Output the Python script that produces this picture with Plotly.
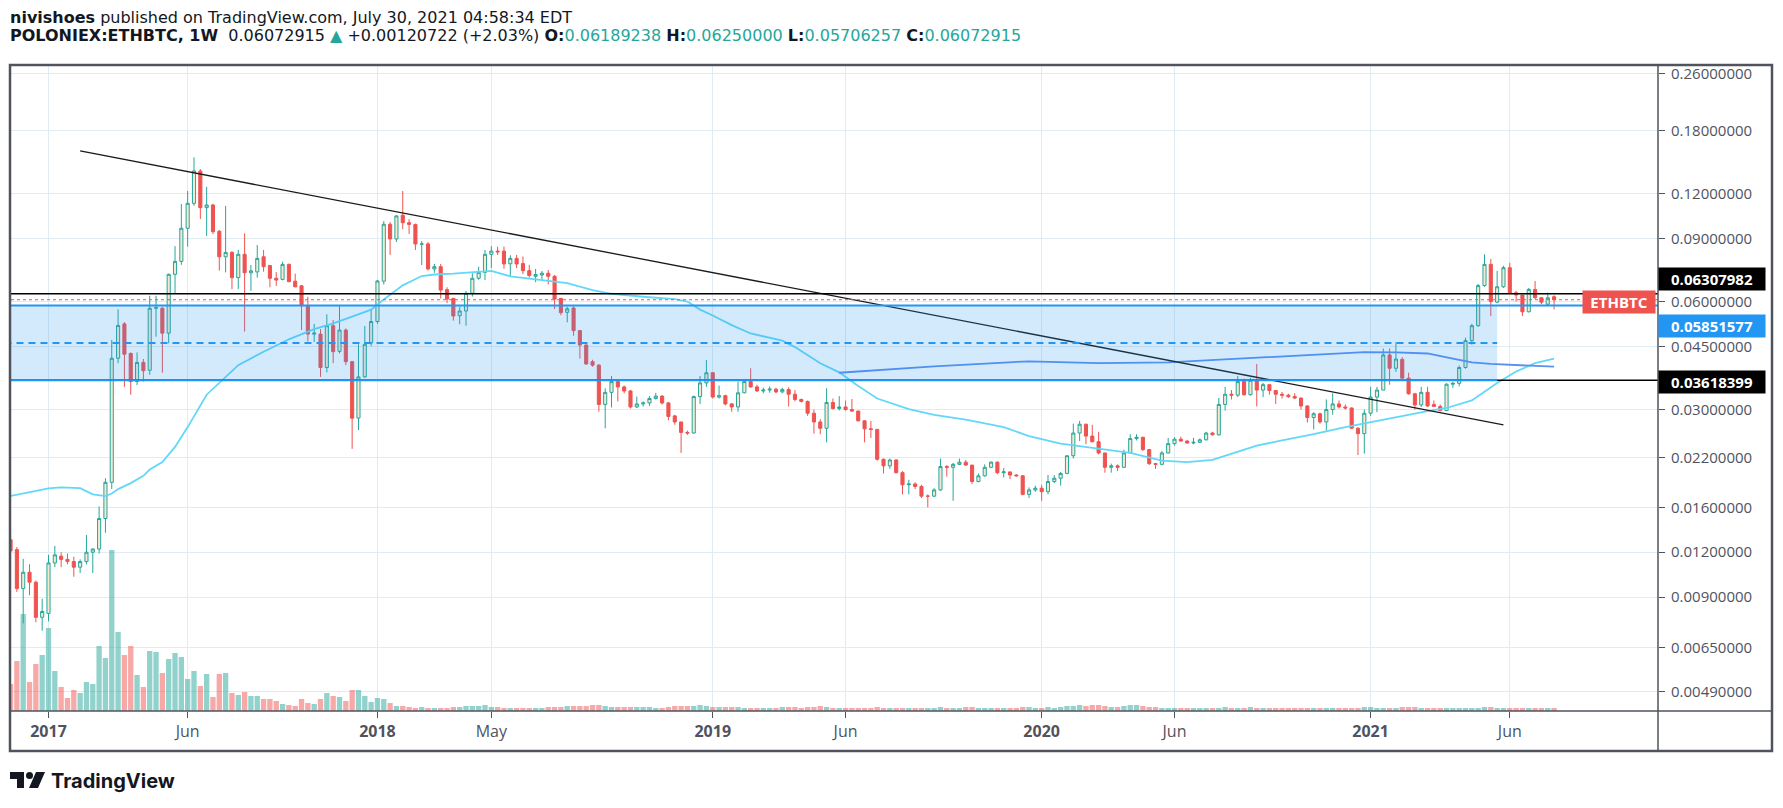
import math
from datetime import date, timedelta
import plotly.graph_objects as go

# ---------------- data (weekly bars, POLONIEX:ETHBTC) ----------------
FIRST_BAR = date(2016, 11, 21)

opens = [
    .0130, .0122, .0095, .01055, .0099, .0079,
    .0081, .0112, .0117, .01146, .0113, .0109, .0113, .0120, .01225, .0149,
    .0188, .0417, .0520, .0430, .0359, .0406, .0386, .0575, .0575, .0490,
    .0715, .0777, .0961, .1128, .1388, .1097, .1116, .0943, .0800, .0823,
    .0700, .0813, .0722, .0726, .0800, .0756, .0697, .0692, .0762, .0684,
    .0664, .0585, .0487, .0487, .0393, .0514, .0436, .0500, .0408, .0284,
    .0370, .0460, .0528, .0684, .0986, .0897, .1045, .0996, .0985, .0868,
    .0869, .0740, .0751, .0648, .0612, .0548, .0565, .0633, .0697, .0724,
    .0813, .0830, .0830, .0765, .0792, .0766, .0732, .0706, .0712, .0720,
    .0706, .0612, .0560, .0576, .0498, .0454, .0408, .0399, .0310, .0335,
    .0359, .0347, .0338, .0305, .0311, .0313, .0322, .0327, .0313, .0288,
    .0277, .0259, .0258, .0326, .0356, .0380, .0325, .0328, .0311, .0305,
    .0334, .0359, .0347, .0338, .0340, .0342, .0336, .0341, .0331, .0320,
    .0316, .0293, .0277, .0266, .0314, .0302, .0305, .0300, .0297, .0279,
    .0265, .0264, .0218, .0209, .0217, .0200, .0185, .0186, .0183, .0172,
    .0172, .0179, .0208, .0207, .0211, .0214, .0210, .0189, .0196, .0207,
    .0214, .0200, .0201, .0197, .0196, .0174, .0179, .0181, .0177, .0189,
    .0193, .0199, .0223, .0258, .0273, .0253, .0244, .0227, .0207, .0209,
    .0207, .0227, .0249, .0251, .0232, .0212, .0211, .0227, .0241, .0248,
    .0245, .0242, .0243, .0247, .0258, .0255, .0310, .0331, .0329, .0360,
    .0330, .0362, .0340, .0352, .0339, .0331, .0329, .0326, .0323, .0307,
    .0285, .0292, .0277, .0300, .0311, .0305, .0303, .0266, .0257, .0293,
    .0325, .0340, .0426, .0391, .0414, .0367, .0332, .0309, .0335, .0310,
    .0306, .0298, .0353, .0355, .0393, .0467, .0514, .0665, .0762, .0598,
    .0660, .0746, .0635, .0626, .0562, .0649, .0615, .0590, .06189238,
]
highs = [
    .0138, .0124, .0115, .0111, .0100, .0089,
    .0118, .0125, .0120, .0119, .01166, .01146, .0134, .0123, .0161, .0193,
    .0469, .0571, .0526, .0433, .0433, .0415, .0623, .0623, .0580, .0718,
    .0857, .1123, .1221, .1516, .1405, .1253, .1125, .0950, .1109, .0830,
    .0836, .0930, .0759, .0863, .0836, .0760, .0725, .0775, .0766, .0718,
    .0668, .0619, .0520, .0503, .0553, .0533, .0587, .0505, .0410, .0456,
    .0513, .0569, .0690, .1006, .1000, .1045, .1221, .1019, .0990, .0885,
    .0880, .0764, .0764, .0658, .0615, .0580, .0643, .0720, .0751, .0836,
    .0857, .0853, .0855, .0808, .0810, .0802, .0760, .0740, .0730, .0735,
    .0712, .0615, .0580, .0582, .0500, .0456, .0413, .0402, .0344, .0372,
    .0363, .0350, .0340, .0326, .0316, .0327, .0334, .0329, .0315, .0290,
    .0277, .0262, .0328, .0372, .0412, .0381, .0350, .0330, .0313, .0359,
    .0362, .0391, .0352, .0345, .0348, .0345, .0345, .0346, .0340, .0322,
    .0318, .0300, .0282, .0344, .0322, .0327, .0318, .0321, .0298, .0280,
    .0279, .0265, .0219, .0219, .0218, .0202, .0191, .0188, .0185, .0174,
    .0181, .0219, .0210, .0213, .0219, .0217, .0210, .0199, .0211, .0215,
    .0215, .0206, .0201, .0198, .0197, .0182, .0184, .0185, .0197, .0197,
    .0201, .0223, .0274, .0279, .0274, .0272, .0260, .0227, .0212, .0211,
    .0232, .0256, .0256, .0252, .0233, .0213, .0230, .0250, .0251, .0252,
    .0247, .0250, .0249, .0260, .0260, .0323, .0347, .0340, .0372, .0366,
    .0368, .0402, .0356, .0354, .0340, .0336, .0332, .0333, .0324, .0308,
    .0295, .0294, .0320, .0333, .0318, .0310, .0304, .0268, .0300, .0347,
    .0347, .0444, .0444, .0462, .0420, .0380, .0334, .0347, .0347, .0318,
    .0310, .0355, .0358, .0398, .0476, .0520, .0672, .0813, .0789, .0731,
    .0755, .0770, .0643, .0626, .0655, .0685, .0617, .0636, .0625,
]
lows = [
    .0109, .0093, .0076, .0091, .00765, .00725,
    .0077, .0109, .0109, .0111, .01025, .0105, .0111, .0105, .0119, .0136,
    .0180, .0404, .0347, .0330, .0351, .0359, .0375, .0479, .0380, .0459,
    .0633, .0760, .0854, .1110, .1020, .0914, .0925, .0732, .0724, .0650,
    .0650, .0495, .0643, .0700, .0727, .0658, .0664, .0688, .0680, .0658,
    .0500, .0464, .0463, .0370, .0381, .0404, .0430, .0399, .0233, .0263,
    .0368, .0451, .0520, .0670, .0810, .0880, .0955, .0927, .0836, .0759,
    .0733, .0722, .0612, .0594, .0531, .0519, .0514, .0620, .0690, .0689,
    .0744, .0810, .0741, .0706, .0744, .0716, .0700, .0680, .0690, .0670,
    .0572, .0550, .0525, .0482, .0416, .0400, .0395, .0296, .0266, .0304,
    .0316, .0333, .0302, .0303, .0306, .0307, .0320, .0310, .0280, .0272,
    .0227, .0255, .0257, .0311, .0347, .0322, .0322, .0308, .0296, .0296,
    .0333, .0345, .0336, .0333, .0334, .0333, .0333, .0306, .0316, .0314,
    .0288, .0257, .0256, .0243, .0300, .0298, .0298, .0296, .0278, .0243,
    .0250, .0216, .0199, .0205, .0199, .0174, .0174, .0180, .0170, .0160,
    .0171, .0178, .0195, .0167, .0210, .0209, .0186, .0188, .0195, .0206,
    .0198, .0194, .0192, .0195, .0173, .0170, .0177, .0167, .0174, .0187,
    .0184, .0198, .0219, .0245, .0240, .0243, .0225, .0200, .0200, .0202,
    .0206, .0226, .0246, .0230, .0210, .0205, .0210, .0226, .0238, .0244,
    .0241, .0240, .0242, .0246, .0254, .0254, .0298, .0320, .0325, .0328,
    .0328, .0306, .0325, .0330, .0311, .0322, .0323, .0321, .0300, .0276,
    .0264, .0274, .0262, .0290, .0302, .0300, .0266, .0224, .0226, .0288,
    .0295, .0340, .0352, .0382, .0366, .0330, .0300, .0305, .0305, .0305,
    .0297, .0297, .0345, .0348, .0390, .0455, .0510, .0660, .0547, .0595,
    .0655, .0630, .0600, .0547, .0560, .0610, .0590, .0583, .05706257,
]
closes = [
    .0121, .0095, .01055, .0099, .0079, .0082,
    .0112, .0118, .01146, .0113, .0109, .0113, .0120, .01225, .0149, .0188,
    .0417, .0515, .0428, .0359, .0406, .0385, .0575, .0577, .0490, .0715,
    .0777, .0961, .1128, .1388, .1097, .1116, .0940, .0800, .0823, .0700,
    .0813, .0722, .0731, .0792, .0751, .0697, .0689, .0762, .0682, .0660,
    .0584, .0487, .0490, .0393, .0514, .0435, .0500, .0408, .02837, .0370,
    .0456, .0528, .0685, .0986, .0897, .1040, .0996, .0985, .0869, .0869,
    .0740, .0751, .0646, .0610, .0547, .0565, .0633, .0697, .0724, .0813,
    .0830, .0826, .0764, .0792, .0764, .0732, .0710, .0714, .0720, .0706,
    .0610, .0559, .0573, .0498, .0454, .0402, .0399, .0310, .0335, .0359,
    .0347, .0338, .0305, .0311, .0313, .0322, .0327, .0313, .0287, .0277,
    .0259, .0258, .0326, .0356, .0380, .0325, .0328, .0311, .0305, .0334,
    .0359, .0347, .0338, .0340, .0342, .0336, .0341, .0331, .0320, .0316,
    .0293, .0277, .0266, .0314, .0302, .0305, .0300, .0297, .0279, .0265,
    .0264, .0218, .0209, .0217, .0200, .0185, .0186, .0183, .0172, .0172,
    .0179, .0208, .0207, .0211, .0214, .0210, .0189, .0196, .0207, .0214,
    .0200, .0201, .0197, .0196, .0174, .0179, .0181, .0177, .0189, .0193,
    .0199, .0223, .0258, .0273, .0253, .0244, .0227, .0207, .0209, .0207,
    .0227, .0249, .0251, .0232, .0212, .0211, .0227, .0241, .0248, .0245,
    .0242, .0243, .0247, .0258, .0255, .0310, .0331, .0329, .0359, .0330,
    .0362, .0340, .0352, .0339, .0331, .0329, .0326, .0323, .0307, .0285,
    .0292, .0277, .0300, .0311, .0305, .0303, .0266, .0257, .0293, .0325,
    .0340, .0426, .0391, .0415, .0367, .0332, .0309, .0335, .0307, .0306,
    .0298, .0353, .0355, .0393, .0467, .0514, .0665, .0762, .0600, .0660,
    .0746, .0635, .0626, .0562, .0649, .0615, .0598, .0615, .06072915,
]
volumes = [
    27, 50, 97, 29, 47, 56,
    83, 40, 24, 13, 21, 18, 29, 27, 65, 53,
    161, 79, 56, 65, 36, 24, 60, 59, 38, 52,
    58, 54, 32, 40, 25, 37, 14, 37, 38, 18,
    16, 19, 15, 15, 12, 12, 10, 7, 6, 5,
    12, 8, 7, 12, 18, 15, 14, 10, 21, 21,
    15, 9, 13, 12, 8, 5, 5, 4, 3, 4,
    3, 3, 3, 3, 4, 4, 5, 5, 5, 6,
    4, 4, 3, 3, 3, 3, 3, 3, 3, 4,
    4, 4, 5, 5, 5, 5, 6, 6, 5, 4,
    4, 4, 4, 4, 4, 4, 3, 3, 4, 5,
    5, 5, 5, 6, 5, 4, 4, 4, 4, 4,
    3, 3, 3, 3, 3, 3, 4, 4, 4, 3,
    4, 4, 5, 4, 3, 3, 3, 3, 3, 3,
    3, 4, 3, 3, 3, 3, 3, 3, 3, 3,
    3, 4, 3, 3, 3, 4, 4, 3, 3, 3,
    3, 3, 3, 3, 4, 4, 3, 3, 4, 3,
    4, 5, 5, 6, 5, 6, 6, 5, 4, 4,
    5, 6, 6, 5, 4, 4, 3, 3, 3, 3,
    3, 3, 3, 3, 3, 3, 4, 3, 3, 3,
    4, 3, 3, 3, 3, 3, 3, 3, 3, 3,
    3, 3, 3, 3, 3, 3, 3, 3, 4, 4,
    3, 3, 3, 3, 4, 4, 4, 3, 3, 3,
    3, 3, 3, 3, 3, 3, 3, 4, 4, 3,
    3, 3, 3, 3, 3, 3, 3, 3, 3,
]
bar_dates = [(FIRST_BAR + timedelta(weeks=k)).isoformat() for k in range(len(closes))]

# moving averages (week number counted from 2017-01-02)
BASE_WEEK = date(2017, 1, 2)
ma50_week = [-6, 0, 2, 5, 7, 9, 10, 11, 13, 15, 16, 18, 20, 22, 25, 28, 30, 34, 38, 42,
             45, 48, 51, 53, 56, 59, 61, 64, 66, 70, 73, 78, 82, 86, 89, 94, 99, 101, 103, 105,
             108, 111, 114, 116, 118, 122, 125, 128, 131, 136, 140, 145, 151, 155, 160, 166, 171, 176, 180, 184,
             187, 191, 195, 200, 205, 209, 214, 218, 221, 225, 229, 232, 235, 238]
ma50_val = [.01722, .01809, .0182, .0181, .0174, .0172, .0175, .0180, .0187, .0196,
            .0204, .0214, .0236, .0268, .0330, .0370, .0399, .0435, .0471, .0503,
            .0522, .0545, .0570, .0608, .0666, .0707, .0714, .0718, .0722, .0731,
            .0706, .0689, .0676, .0646, .0631, .0619, .0610, .0600, .0570, .0549,
            .0516, .0489, .0476, .0467, .0448, .0404, .0381, .0349, .0322, .0301,
            .0290, .0281, .0268, .0253, .0241, .0233, .0227, .0216, .0214, .0217,
            .0226, .0238, .0246, .0256, .0268, .0277, .0288, .0297, .0303, .0318,
            .0356, .0383, .0404, .0416]
ma200_week = [125, 140, 155, 166, 177, 187, 198, 208, 213, 218, 222, 225, 228, 232, 238]
ma200_val = [.0380, .0396, .0409, .0404, .0406, .0415, .0426, .0434, .0433, .0430,
             .0416, .0406, .0402, .0399, .0395]

# drawings
level_resist = 0.06307982
zone_top = 0.05851577
zone_bottom = 0.03618399
last_price = 0.06072915
zone_start = '2016-11-01'
zone_end = '2021-05-24'
trend_dates = ['2017-02-06', '2021-05-31']
trend_vals = [0.1579, 0.0272]

price_ticks = [0.26, 0.18, 0.12, 0.09, 0.06, 0.045, 0.03, 0.022, 0.016, 0.012, 0.009, 0.0065, 0.0049]
time_ticks = ['2017-01-02', '2017-06-05', '2018-01-01', '2018-05-07', '2019-01-07',
              '2019-06-03', '2020-01-06', '2020-06-01', '2021-01-04', '2021-06-07']
time_labels = ['<b>2017</b>', 'Jun', '<b>2018</b>', 'May', '<b>2019</b>', 'Jun',
               '<b>2020</b>', 'Jun', '<b>2021</b>', 'Jun']
header_change = '+0.00120722 (+2.03%)'

# ---------------- styling ----------------
UP = '#26a69a'
UP_FILL = '#f7e8d0'
DOWN = '#ef5350'
GRID = '#e1ecf2'
AXIS = '#50535e'
TEXT = '#131722'
BLUE = '#2196f3'

W, H = 1783, 808
ML, MR, MT, MB = 11, 125, 66, 97
PW, PH = W - ML - MR, H - MT - MB


def px_x(px):
    return (px - ML) / PW


def px_y(py):
    return (H - MB - py) / PH


def wk(n):
    return (BASE_WEEK + timedelta(weeks=n)).isoformat()


fig = go.Figure()

vol_colors = ['rgba(38,166,154,0.5)' if c >= o else 'rgba(239,83,80,0.5)'
              for o, c in zip(opens, closes)]
fig.add_trace(go.Bar(x=bar_dates, y=volumes, marker=dict(color=vol_colors, line=dict(width=0)),
                     width=0.84 * 7 * 86400000, yaxis='y', hoverinfo='skip'))

fig.add_trace(go.Candlestick(
    x=bar_dates, open=opens, high=highs, low=lows, close=closes, yaxis='y2',
    increasing=dict(line=dict(color=UP, width=1), fillcolor=UP_FILL),
    decreasing=dict(line=dict(color=DOWN, width=1), fillcolor=DOWN),
    whiskerwidth=0, hoverinfo='skip'))

fig.add_trace(go.Scatter(x=[wk(n) for n in ma50_week], y=ma50_val, mode='lines', yaxis='y2',
                         line=dict(color='#62d8f8', width=1.8), hoverinfo='skip'))
fig.add_trace(go.Scatter(x=[wk(n) for n in ma200_week], y=ma200_val, mode='lines', yaxis='y2',
                         line=dict(color='#5a8ff0', width=1.8), hoverinfo='skip'))
fig.add_trace(go.Scatter(x=trend_dates, y=trend_vals, mode='lines', yaxis='y2',
                         line=dict(color='#1a1a1a', width=1.3), hoverinfo='skip'))

shapes = []
# zone rectangle + midline
shapes.append(dict(type='rect', xref='x', yref='y2', x0=zone_start, x1=zone_end,
                   y0=zone_bottom, y1=zone_top, fillcolor='rgba(33,150,243,0.2)',
                   line=dict(width=0), layer='above'))
mid = math.sqrt(zone_top * zone_bottom)
shapes.append(dict(type='line', xref='x', yref='y2', x0=zone_start, x1=zone_end, y0=mid, y1=mid,
                   line=dict(color=BLUE, width=2, dash='7px,5px'), layer='above'))
# horizontal levels
shapes.append(dict(type='line', xref='paper', yref='y2', x0=0, x1=1, y0=level_resist, y1=level_resist,
                   line=dict(color='#000000', width=1.5), layer='above'))
shapes.append(dict(type='line', xref='paper', yref='y2', x0=0, x1=1, y0=last_price, y1=last_price,
                   line=dict(color=DOWN, width=1, dash='dot'), layer='above'))
shapes.append(dict(type='line', xref='paper', yref='y2', x0=0, x1=1, y0=zone_bottom, y1=zone_bottom,
                   line=dict(color='#000000', width=1.5), layer='above'))
shapes.append(dict(type='line', xref='x', yref='y2', x0=zone_start, x1=zone_end, y0=zone_bottom, y1=zone_bottom,
                   line=dict(color=BLUE, width=2), layer='above'))
shapes.append(dict(type='line', xref='paper', yref='y2', x0=0, x1=1, y0=zone_top, y1=zone_top,
                   line=dict(color=BLUE, width=2), layer='above'))
# frame
shapes.append(dict(type='line', xref='paper', yref='paper', x0=px_x(10), x1=px_x(1772),
                   y0=px_y(711), y1=px_y(711), line=dict(color=AXIS, width=1.5), layer='above'))
shapes.append(dict(type='line', xref='paper', yref='paper', x0=px_x(1658), x1=px_x(1658),
                   y0=px_y(65), y1=px_y(751), line=dict(color=AXIS, width=1.5), layer='above'))
shapes.append(dict(type='rect', xref='paper', yref='paper', x0=px_x(10), x1=px_x(1772),
                   y0=px_y(751), y1=px_y(65), line=dict(color=AXIS, width=2.5), layer='above'))
# TradingView logo mark
shapes.append(dict(type='path', xref='paper', yref='paper',
                   path='M {} {} L {} {} L {} {} L {} {} L {} {} L {} {} Z'.format(
                       px_x(10), px_y(772), px_x(24), px_y(772), px_x(24), px_y(788),
                       px_x(17), px_y(788), px_x(17), px_y(779), px_x(10), px_y(779)),
                   fillcolor=TEXT, line=dict(width=0), layer='above'))
shapes.append(dict(type='circle', xref='paper', yref='paper', x0=px_x(26), x1=px_x(33),
                   y0=px_y(779), y1=px_y(772), fillcolor=TEXT, line=dict(width=0), layer='above'))
shapes.append(dict(type='path', xref='paper', yref='paper',
                   path='M {} {} L {} {} L {} {} L {} {} Z'.format(
                       px_x(36), px_y(772), px_x(45), px_y(772), px_x(38), px_y(788), px_x(29), px_y(788)),
                   fillcolor=TEXT, line=dict(width=0), layer='above'))

annotations = []
HEAD_FONT = 'DejaVu Sans'
line1 = '<b>nivishoes</b> published on TradingView.com, July 30, 2021 04:58:34 EDT'
teal = "<span style='color:%s'>" % UP
line2 = ('<b>POLONIEX:ETHBTC, 1W</b>\u00a0\u00a0%.8f %s▲</span> %s '
         '<b>O:</b>%s%.8f</span> <b>H:</b>%s%.8f</span> <b>L:</b>%s%.8f</span> <b>C:</b>%s%.8f</span>') % (
    closes[-1], teal, header_change, teal, opens[-1], teal, highs[-1], teal, lows[-1], teal, closes[-1])
annotations.append(dict(xref='paper', yref='paper', x=px_x(9), y=px_y(17), xanchor='left', yanchor='middle',
                        text=line1, showarrow=False, borderpad=0,
                        font=dict(size=16, color=TEXT, family=HEAD_FONT)))
annotations.append(dict(xref='paper', yref='paper', x=px_x(9), y=px_y(36), xanchor='left', yanchor='middle',
                        text=line2, showarrow=False, borderpad=0,
                        font=dict(size=16, color=TEXT, family=HEAD_FONT)))
annotations.append(dict(xref='paper', yref='paper', x=px_x(49), y=px_y(781), xanchor='left', yanchor='middle',
                        text='<b>TradingView</b>', showarrow=False,
                        font=dict(size=20, color=TEXT, family='Inter')))

# price-scale labels
for val, bg, shift in [(level_resist, '#000000', 15), (zone_top, BLUE, -20), (zone_bottom, '#000000', -2)]:
    annotations.append(dict(xref='paper', yref='y2', x=1, y=math.log10(val), xanchor='left', yanchor='middle',
                            yshift=shift, text='<b>%.8f</b>' % val, showarrow=False, bgcolor=bg,
                            width=100, height=16, borderpad=3,
                            font=dict(size=15, color='white', family='Open Sans')))
annotations.append(dict(xref='paper', yref='y2', x=1, y=math.log10(last_price), xanchor='right',
                        yanchor='middle', xshift=-2, yshift=-2, text='<b>ETHBTC</b>', showarrow=False,
                        bgcolor=DOWN, width=66, height=16, borderpad=3,
                        font=dict(size=15, color='white', family='Open Sans')))

fig.update_layout(
    width=W, height=H, margin=dict(l=ML, r=MR, t=MT, b=MB),
    paper_bgcolor='white', plot_bgcolor='white', showlegend=False, hovermode=False,
    font=dict(family='Open Sans', color=TEXT),
    shapes=shapes, annotations=annotations,
    xaxis=dict(type='date', range=['2016-11-21 12:00', '2021-11-18 00:00'],
               tickvals=time_ticks, ticktext=time_labels, showgrid=True, gridcolor=GRID, gridwidth=1,
               ticks='outside', ticklen=6, tickcolor=AXIS, tickfont=dict(size=16, color=AXIS),
               showline=False, zeroline=False, rangeslider=dict(visible=False), fixedrange=True),
    yaxis=dict(range=[0, PH], visible=False, fixedrange=True),
    yaxis2=dict(type='log', overlaying='y', side='right', anchor='x',
                range=[-2.3637, -0.5647], tickvals=price_ticks, ticktext=['%.8f' % v for v in price_ticks],
                showgrid=True, gridcolor=GRID, gridwidth=1, ticks='outside', ticklen=6, tickcolor=AXIS,
                tickfont=dict(size=15, color=AXIS), ticklabelstandoff=3,
                showline=False, zeroline=False, fixedrange=True),
)

fig.write_html('out.html', config={'displayModeBar': False},
               post_script="document.body.style.margin='0px';")
